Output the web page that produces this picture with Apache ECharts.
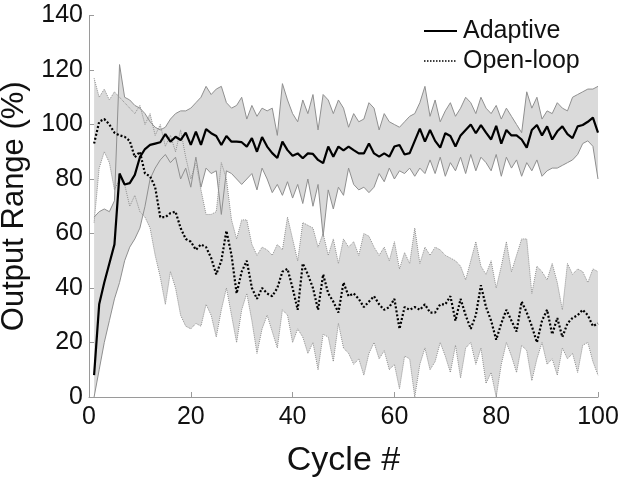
<!DOCTYPE html>
<html><head><meta charset="utf-8">
<script src="https://cdn.jsdelivr.net/npm/echarts@6/dist/echarts.min.js"></script>
<style>html,body{margin:0;padding:0;background:#fff}#c{width:624px;height:479px}</style>
</head><body><div id="c"></div>
<script>
const cycles = [1,2,3,4,5,6,7,8,9,10,11,12,13,14,15,16,17,18,19,20,21,22,23,24,25,26,27,28,29,30,31,32,33,34,35,36,37,38,39,40,41,42,43,44,45,46,47,48,49,50,51,52,53,54,55,56,57,58,59,60,61,62,63,64,65,66,67,68,69,70,71,72,73,74,75,76,77,78,79,80,81,82,83,84,85,86,87,88,89,90,91,92,93,94,95,96,97,98,99,100];
const adaptiveMean = [8,34,42,49,56,82,78,78.5,81.5,88,91,92.5,93,93.5,96.5,93.7,95.5,94.3,97,92.5,97.4,92.5,98.3,96.8,95.8,92.5,95.8,93.7,93.7,93.5,91.9,95,90,95.4,91.9,89.5,87.7,93.7,90.6,88.5,89.4,87.6,89.4,89.2,87,85.8,91.9,88.2,91.9,90.5,91.9,90.6,89.4,89.4,93,89.4,88.2,89.4,88.2,91.9,92.5,89,89.5,94,98.5,93.7,98,94,91.5,96.8,95.8,91.9,96,98,100,96.8,99.8,97,94.5,99.5,93,98,96,96,94.5,91.5,98,99.8,96,99.3,94.5,97.5,99.3,96.5,95,99.3,99.8,101,102.5,97];
const adaptiveUpper = [66,68,69,68,72,122,110,109,107,106,104,101,99,98,99,102,104,105,105,106,108,110,114,111,113,114,108,106,107,110,102,107,103,106,105,106,96,115,109,104,101,109,104,111,98,111,109,104,109,106,99,104,101,102,108,106,98,104,101,100,99,101,103,104,108,114,103,109,101,105,108,103,106,110,108,104,110,106,104,107,102,106,103,100,97,112,106,110,102,105,104,108,106,105,110,111,112,113,113,114];
const adaptiveLower = [0,10,20,28,36,42,50,55,58,62,70,80,84,87,89,86,88,80,84,77,88,77,84,82,83,67,83,82,80,78,80,82,76,84,80,75,78,74,79,73,78,71,80,70,78,59,76,69,77,74,84,78,76,77,75,77,82,79,84,80,83,82,84,81,84,82,87,82,88,81,86,83,88,82,89,83,88,86,83,89,81,88,84,87,81,86,83,87,81,83,84,84,85,86,87,89,93,94,92,80];
const openLoopMean = [93,101,102,100,97,96,95.5,94,88,90,82,81,77,66,66,67.5,68,62,58,57,54,56,55,51,45,50,61,52,38,46,50,40,36,40,38,37,40,46,47,40,32,49,45,40,32,45,38,35,31,42,37,38,36,33,35,37,34,32,33,36,25,33,32,33,32,34,31,31,34,34,37,28,36,30,25,30,41,33,28,21,27,32,28,24,35,31,26,20,28,32,23,29,22,27,29,30,32,30,26,27];
const openLoopUpper = [117,110,113,109,112,110,108,106,104,107,100,104,96,100,92,96,90,98,88,80,86,76,67,67,68,86,80,65,58,65,65,56,52,55,54,52,56,54,66,58,50,64,63,62,55,60,52,58,49,58,55,57,52,60,59,55,52,55,50,57,47,53,49,62,49,55,52,55,54,52,51,50,48,43,50,57,48,45,50,40,48,57,46,52,58,58,38,48,46,43,49,42,32,49,45,47,46,42,47,46];
const openLoopLower = [64,84,90,86,76,80,78,70,74,68,66,62,52,44,34,46,40,30,26,25,27,26,34,30,22,32,40,30,20,32,38,28,16,25,30,24,18,32,30,20,25,22,16,20,10,23,22,13,27,18,16,12,14,8,16,20,14,17,10,12,3,15,14,0,12,18,10,13,20,15,9,19,7,18,20,12,18,5,9,0,12,20,15,9,19,17,6,14,20,12,14,8,18,14,16,9,19,20,13,8];
const seriesNames = ['Adaptive', 'Open-loop'];

const pairs = v => cycles.map((c,i)=>[c,v[i]]);
const BAND = '#dadada';
const EDGE = '#8f8f8f';
const F = "'Liberation Sans', Arial, sans-serif";

function bandSeries(name, upper, lower){
  return {
    name, type:'custom', silent:true, z:1, data:[[cycles[0], lower[0]]],
    renderItem:function(params, api){
      const pts = [];
      for (let i=0;i<cycles.length;i++) pts.push(api.coord([cycles[i], upper[i]]));
      for (let i=cycles.length-1;i>=0;i--) pts.push(api.coord([cycles[i], lower[i]]));
      return {type:'polygon', shape:{points:pts}, style:{fill:BAND, stroke:null}};
    }
  };
}
function edge(name, data, type){return {name, type:'line', data, symbol:'none', silent:true, lineStyle:{color:EDGE,width:1,type}, z:2};}

const chart = echarts.init(document.getElementById('c'), null, {renderer:'canvas'});
chart.setOption({
  animation:false,
  grid:{left:89, right:26, top:15.5, bottom:82, containLabel:false, outerBoundsMode:'none'},
  graphic:[
    {type:'line', shape:{x1:424, y1:31, x2:457, y2:31}, style:{stroke:'#000', lineWidth:2}, z:10},
    {type:'text', x:463, y:31, style:{text:seriesNames[0], font:"25px 'Liberation Sans', Arial, sans-serif", fill:'#111', textVerticalAlign:'middle', verticalAlign:'middle'}, z:10},
    {type:'line', shape:{x1:424, y1:61, x2:457, y2:61}, style:{stroke:'#000', lineWidth:1.5, lineDash:[1.5,1.5]}, z:10},
    {type:'text', x:463, y:61, style:{text:seriesNames[1], font:"25px 'Liberation Sans', Arial, sans-serif", fill:'#111', textVerticalAlign:'middle', verticalAlign:'middle'}, z:10}
  ],
  xAxis:{type:'value', min:0, max:100, interval:20,
    axisLine:{show:true, lineStyle:{color:'#9a9a9a', width:1}},
    axisTick:{show:true, inside:true, length:5, lineStyle:{color:'#9a9a9a'}},
    splitLine:{show:false},
    axisLabel:{fontFamily:F, fontSize:25, color:'#111', margin:8},
    name:'Cycle #', nameLocation:'middle', nameGap:47,
    nameTextStyle:{fontFamily:F, fontSize:34, color:'#111'}
  },
  yAxis:{type:'value', min:0, max:140, interval:20,
    axisLine:{show:true, lineStyle:{color:'#9a9a9a', width:1}},
    axisTick:{show:true, inside:true, length:5, lineStyle:{color:'#9a9a9a'}},
    splitLine:{show:false},
    axisLabel:{fontFamily:F, fontSize:25, color:'#111', margin:6},
    name:'Output Range (%)', nameLocation:'middle', nameGap:50,
    nameTextStyle:{fontFamily:F, fontSize:31, color:'#111'}
  },
  series:[
    bandSeries('adBand', adaptiveUpper, adaptiveLower),
    bandSeries('olBand', openLoopUpper, openLoopLower),
    edge('adU', pairs(adaptiveUpper), 'solid'),
    edge('adL', pairs(adaptiveLower), 'solid'),
    edge('olU', pairs(openLoopUpper), 'dotted'),
    edge('olL', pairs(openLoopLower), 'dotted'),
    {name:seriesNames[0], type:'line', data:pairs(adaptiveMean), symbol:'none', lineStyle:{color:'#000', width:2.2, type:'solid'}, itemStyle:{color:'#000'}, z:3},
    {name:seriesNames[1], type:'line', data:pairs(openLoopMean), symbol:'none', lineStyle:{color:'#000', width:2.2, type:[2,2]}, itemStyle:{color:'#000'}, z:3}
  ]
});
</script></body></html>
